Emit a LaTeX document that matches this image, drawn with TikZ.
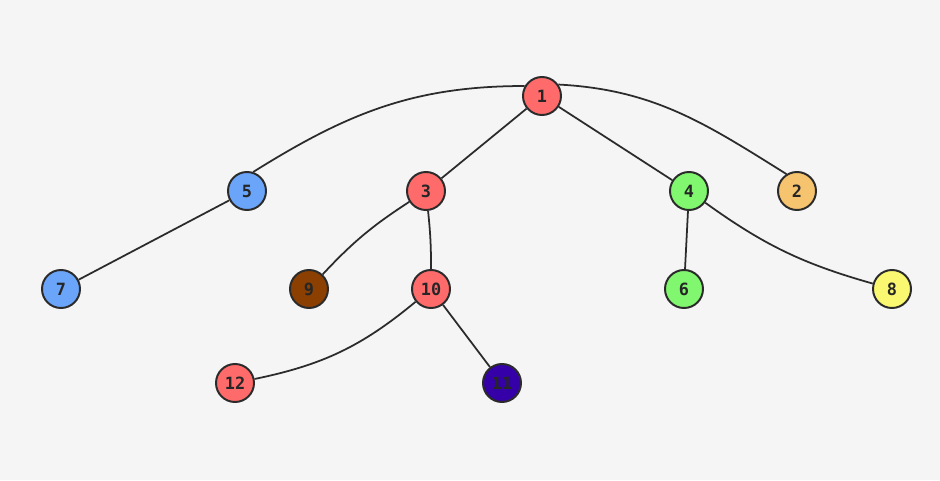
\documentclass[tikz,border=0pt]{standalone}
\usepackage{fontspec}
\setmonofont{DejaVu Sans Mono}
\usepackage{tikz}
\usetikzlibrary{arrows.meta, calc, positioning}
\usepackage{xcolor}
\definecolor{bgcol}{HTML}{F5F5F5}
\definecolor{nred}{HTML}{FF6B6B}
\definecolor{nblue}{HTML}{6AA5FA}
\definecolor{ngreen}{HTML}{80F76E}
\definecolor{norange}{HTML}{F6C46E}
\definecolor{nyellow}{HTML}{FAF870}
\definecolor{nbrown}{HTML}{8B3F00}
\definecolor{npurple}{HTML}{3500A8}
\definecolor{edgecol}{HTML}{2B2B2B}

\begin{document}
\begin{tikzpicture}[
    vtx/.style={circle, draw=edgecol, line width=1.4pt, minimum size=0.95cm, inner sep=0pt,
        font=\ttfamily\bfseries\fontsize{12}{14}\selectfont, text=black!85},
    edge/.style={draw=edgecol, line width=1.25pt}
]
    % 背景
    \fill[bgcol] (0, 0) rectangle (23.5, 12);
    \useasboundingbox (0, 0) rectangle (23.5, 12);

    % 顶点
    \node[vtx, fill=nred]    (v1)  at (13.55, 9.6)    {1};
    \node[vtx, fill=nblue]   (v5)  at (6.175, 7.225)  {5};
    \node[vtx, fill=nred]    (v3)  at (10.65, 7.225)  {3};
    \node[vtx, fill=ngreen]  (v4)  at (17.225, 7.225) {4};
    \node[vtx, fill=norange] (v2)  at (19.925, 7.225) {2};
    \node[vtx, fill=nblue]   (v7)  at (1.525, 4.775)  {7};
    \node[vtx, fill=nbrown]  (v9)  at (7.725, 4.775)  {9};
    \node[vtx, fill=nred]    (v10) at (10.775, 4.775) {10};
    \node[vtx, fill=ngreen]  (v6)  at (17.1, 4.775)   {6};
    \node[vtx, fill=nyellow] (v8)  at (22.3, 4.775)   {8};
    \node[vtx, fill=nred]    (v12) at (5.875, 2.425)  {12};
    \node[vtx, fill=npurple] (v11) at (12.55, 2.425)  {11};

    % 边
    \draw[edge] (v1.150) to[out=180, in=32] (v5.72);
    \draw[edge] (v1) -- (v3);
    \draw[edge] (v1) -- (v4);
    \draw[edge] (v1.35) to[out=-3, in=148] (v2.122);
    \draw[edge] (v5) -- (v7);
    \draw[edge] (v3) to[bend right=7] (v9);
    \draw[edge] (v3) to[bend left=3] (v10);
    \draw[edge] (v4) -- (v6);
    \draw[edge] (v4) to[bend right=10] (v8);
    \draw[edge] (v10) to[bend left=14] (v12);
    \draw[edge] (v10) -- (v11);
\end{tikzpicture}
\end{document}
